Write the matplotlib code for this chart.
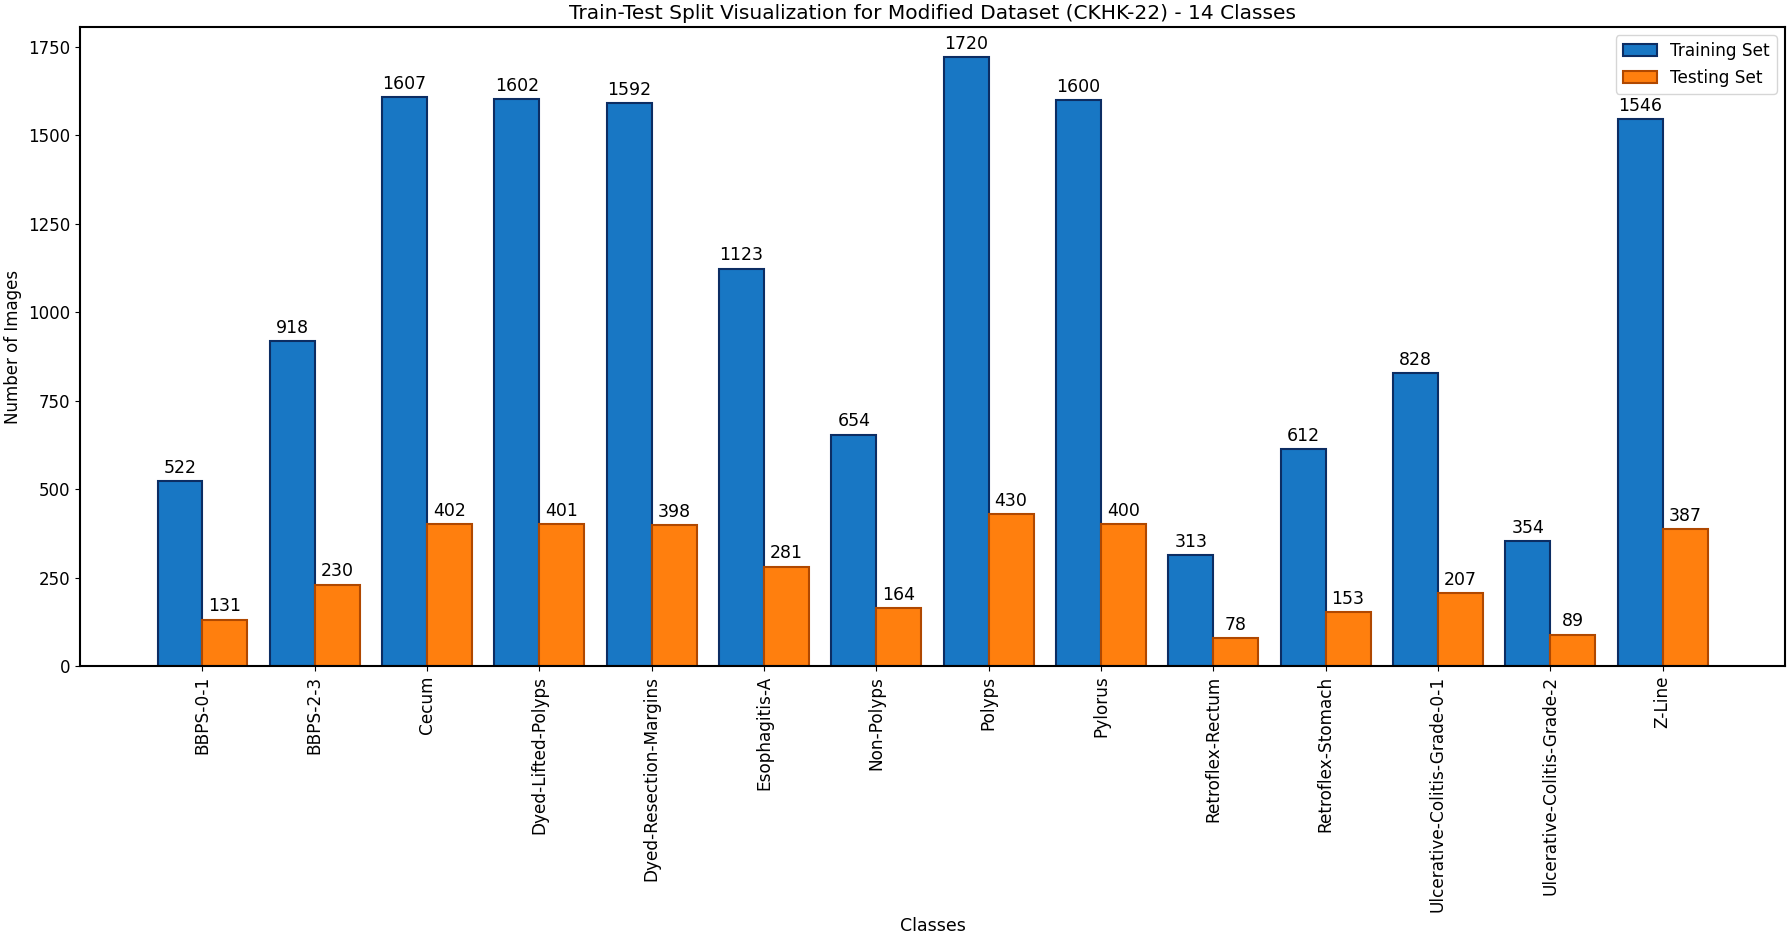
import matplotlib
matplotlib.use("Agg")
import matplotlib.pyplot as plt
import numpy as np

classes = ["BBPS-0-1", "BBPS-2-3", "Cecum", "Dyed-Lifted-Polyps", "Dyed-Resection-Margins",
           "Esophagitis-A", "Non-Polyps", "Polyps", "Pylorus", "Retroflex-Rectum",
           "Retroflex-Stomach", "Ulcerative-Colitis-Grade-0-1", "Ulcerative-Colitis-Grade-2", "Z-Line"]
train_counts = [522, 918, 1607, 1602, 1592, 1123, 654, 1720, 1600, 313, 612, 828, 354, 1546]
test_counts = [131, 230, 402, 401, 398, 281, 164, 430, 400, 78, 153, 207, 89, 387]

W, H = 1787, 932
fig = plt.figure(figsize=(W / 100, H / 100), dpi=100)
ax = fig.add_axes([80 / W, 1 - 666 / H, (1785 - 80) / W, (666 - 27) / H])

x = np.arange(len(classes))
w = 0.4
b1 = ax.bar(x - w / 2, train_counts, w, label="Training Set", color="#1877c4",
            edgecolor="#0c2d63", linewidth=1.5)
b2 = ax.bar(x + w / 2, test_counts, w, label="Testing Set", color="#ff7f0e",
            edgecolor="#b04800", linewidth=1.5)
ax.bar_label(b1, padding=3, fontsize=12.5)
ax.bar_label(b2, padding=3, fontsize=12.5)

ax.set_xticks(x)
ax.set_xticklabels(classes, rotation=90, fontsize=12.2)
ax.tick_params(axis="y", labelsize=12)
ax.set_xlabel("Classes", fontsize=12.5)
ax.set_ylabel("Number of Images", fontsize=12)
ax.set_title("Train-Test Split Visualization for Modified Dataset (CKHK-22) - 14 Classes", fontsize=14.5)
ax.legend(loc="upper right", fontsize=12.2)
for s in ax.spines.values():
    s.set_linewidth(1.5)

fig.savefig("out.png", dpi=100)
